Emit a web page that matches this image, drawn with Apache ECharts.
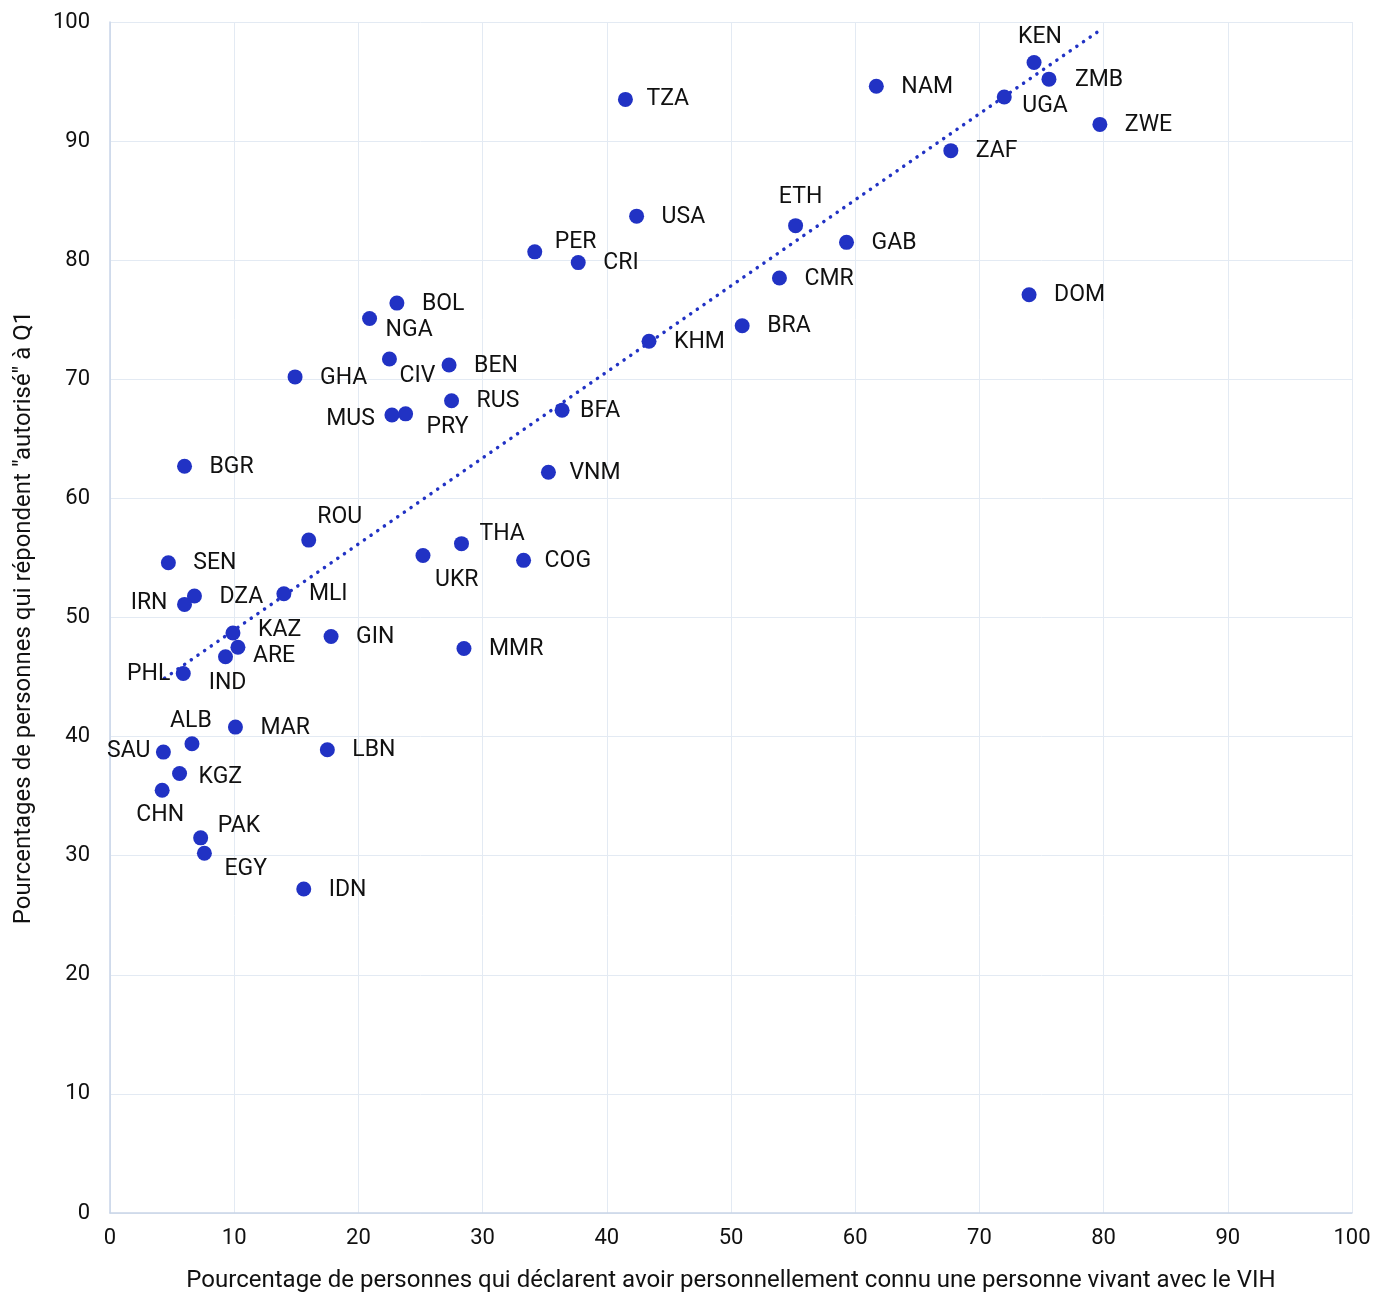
<!DOCTYPE html>
<html><head><meta charset="utf-8">
<script src="https://cdn.jsdelivr.net/npm/echarts@6/dist/echarts.min.js"></script>
<style>html,body{margin:0;padding:0;background:#fff}#c{width:1373px;height:1292px}</style>
</head><body><div id="c"></div>
<script>
const countries = ["KEN","ZMB","UGA","ZWE","ZAF","NAM","TZA","USA","ETH","GAB","CMR","DOM","PER","CRI","BRA","KHM","BOL","NGA","CIV","BEN","GHA","RUS","MUS","PRY","BFA","VNM","BGR","ROU","THA","UKR","COG","SEN","DZA","IRN","MLI","KAZ","ARE","IND","GIN","MMR","PHL","ALB","MAR","SAU","LBN","KGZ","CHN","PAK","EGY","IDN"];
const knownPct = [74.4,75.6,72.0,79.7,67.7,61.7,41.5,42.4,55.2,59.3,53.9,74.0,34.2,37.7,50.9,43.4,23.1,20.9,22.5,27.3,14.9,27.5,22.7,23.8,36.4,35.3,6.0,16.0,28.3,25.2,33.3,4.7,6.8,6.0,14.0,9.9,10.3,9.3,17.8,28.5,5.9,6.6,10.1,4.3,17.5,5.6,4.2,7.3,7.6,15.6];
const allowedPct = [96.6,95.2,93.7,91.4,89.2,94.6,93.5,83.7,82.9,81.5,78.5,77.1,80.7,79.8,74.5,73.2,76.4,75.1,71.7,71.2,70.2,68.2,67.0,67.1,67.4,62.2,62.7,56.5,56.2,55.2,54.8,54.6,51.8,51.1,52.0,48.7,47.5,46.7,48.4,47.4,45.3,39.4,40.8,38.7,38.9,36.9,35.5,31.5,30.2,27.2];
const trendX = [4.4, 79.7];
const trendY = [44.9, 99.3];
const xTicks = [0,10,20,30,40,50,60,70,80,90,100];
const yTicks = [0,10,20,30,40,50,60,70,80,90,100];
const xName = "Pourcentage de personnes qui déclarent avoir personnellement connu une personne vivant avec le VIH";
const yName = "Pourcentages de personnes qui répondent \"autorisé\" à Q1";

// label placement (style): [align, dx, dy]
const place = {
  KEN:['center',6,-25], ZMB:['left',26,1], UGA:['left',18,9], ETH:['center',5,-28],
  PER:['left',20,-10], NGA:['left',16,12], CIV:['left',10,17], MUS:['right',-17,4],
  PRY:['left',21,13], BFA:['left',18,1], ROU:['center',31,-23], THA:['left',18,-9],
  UKR:['left',12,25], IRN:['right',-17,-1], KAZ:['left',25,-3], ARE:['left',15,9],
  IND:['center',2,26], PHL:['right',-13,1], ALB:['center',-1,-22], SAU:['right',-13,-1],
  KGZ:['left',19,4], CHN:['center',-2,25], PAK:['left',17,-12], EGY:['left',20,16],
  TZA:['left',21,0], VNM:['left',21,1], COG:['left',21,1]
};
const FONT = 'Roboto';
const blue = '#2132c4';
const pts = countries.map((c,i)=>{
  const p = place[c] || ['left',25,1];
  return {value:[knownPct[i], allowedPct[i]], name:c,
    label:{show:true, formatter:c, position:'inside', align:p[0], verticalAlign:'middle', offset:[p[1],p[2]]}};
});
const chart = echarts.init(document.getElementById('c'), null, {renderer:'canvas'});
chart.setOption({
  animation:false,
  textStyle:{fontFamily:FONT},
  grid:{left:110,right:21,top:22,bottom:79,containLabel:false,outerBoundsMode:'none'},
  xAxis:{type:'value',min:0,max:100,interval:10,
    name:xName,nameLocation:'middle',nameGap:56,
    nameTextStyle:{fontFamily:FONT,fontSize:24,color:'#111'},
    axisLine:{show:true,lineStyle:{color:'#c9d5e8',width:1.5}},
    axisTick:{show:false},
    splitLine:{show:true,lineStyle:{color:'#e3eaf3',width:1}},
    axisLabel:{fontFamily:FONT,fontSize:22,color:'#111',margin:14,
      formatter:v=>xTicks.includes(v)?String(v):''}},
  yAxis:{type:'value',min:0,max:100,interval:10,
    name:yName,nameLocation:'middle',nameGap:74,nameRotate:90,
    nameTextStyle:{fontFamily:FONT,fontSize:24,color:'#111'},
    axisLine:{show:true,lineStyle:{color:'#c9d5e8',width:1.5}},
    axisTick:{show:false},
    splitLine:{show:true,lineStyle:{color:'#e3eaf3',width:1}},
    axisLabel:{fontFamily:FONT,fontSize:22,color:'#111',margin:20,
      formatter:v=>yTicks.includes(v)?String(v):''}},
  series:[
    {type:'line',data:trendX.map((x,i)=>[x,trendY[i]]),symbol:'none',silent:true,
      lineStyle:{color:blue,width:3.5,type:[0.1,8],cap:'round'},z:1},
    {type:'scatter',data:pts,symbolSize:15,itemStyle:{color:blue,opacity:1},
      label:{fontFamily:FONT,fontSize:23,color:'#111'},z:2}
  ]
});
</script></body></html>
